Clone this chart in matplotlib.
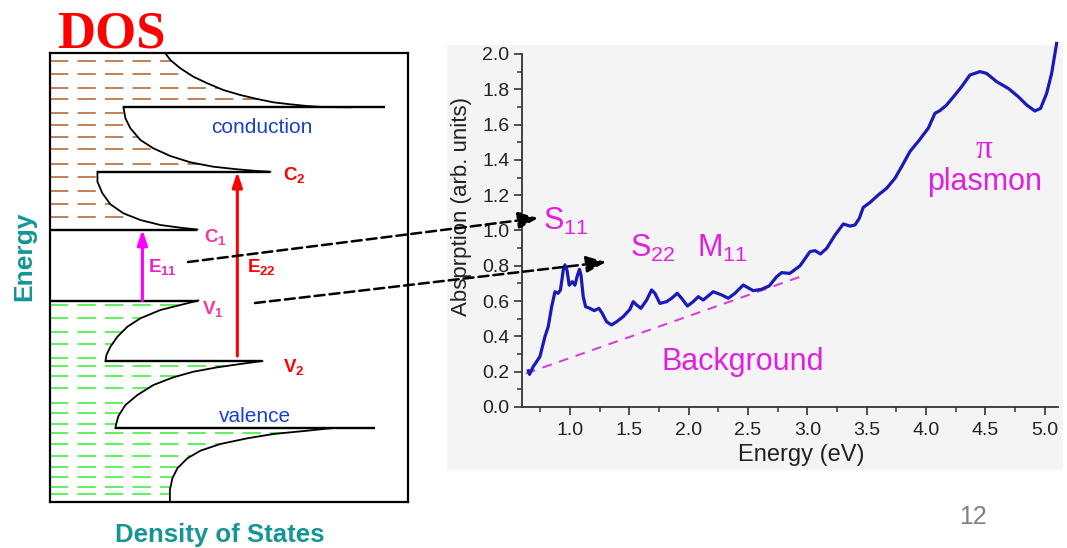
import matplotlib
matplotlib.use("Agg")
import matplotlib.pyplot as plt
import numpy as np
from matplotlib.patches import Polygon, Rectangle
from matplotlib.ticker import MultipleLocator

plt.rcParams['font.family'] = ['Liberation Sans', 'DejaVu Sans']
plt.rcParams['mathtext.fontset'] = 'custom'
plt.rcParams['mathtext.rm'] = 'Liberation Sans'
plt.rcParams['mathtext.it'] = 'Liberation Sans:italic'
plt.rcParams['mathtext.bf'] = 'Liberation Sans:bold'

# ---- absorption spectrum (right panel) ----
energy_ev = [0.65, 0.66, 0.69, 0.747, 0.79, 0.817, 0.846, 0.874, 0.90, 0.92,
             0.944, 0.958, 0.975, 0.994, 1.02, 1.042, 1.06, 1.08, 1.093, 1.112,
             1.132, 1.168, 1.205, 1.244, 1.272, 1.309, 1.351, 1.393, 1.449, 1.505,
             1.533, 1.562, 1.598, 1.646, 1.688, 1.716, 1.758, 1.815, 1.857, 1.904,
             1.941, 1.99, 2.039, 2.081, 2.123, 2.207, 2.278, 2.334, 2.39, 2.46,
             2.544, 2.615, 2.679, 2.741, 2.783, 2.853, 2.938, 3.022, 3.064, 3.11,
             3.163, 3.233, 3.303, 3.359, 3.401, 3.438, 3.471, 3.527, 3.597, 3.668,
             3.738, 3.794, 3.864, 3.949, 4.019, 4.075, 4.117, 4.173, 4.244, 4.30,
             4.37, 4.454, 4.51, 4.595, 4.693, 4.777, 4.848, 4.917, 4.965, 5.016,
             5.058, 5.10]
absorption = [0.205, 0.185, 0.228, 0.285, 0.40, 0.455, 0.568, 0.653, 0.644, 0.663,
              0.776, 0.805, 0.776, 0.69, 0.71, 0.69, 0.738, 0.78, 0.748, 0.625,
              0.568, 0.559, 0.546, 0.559, 0.531, 0.483, 0.465, 0.483, 0.512, 0.553,
              0.597, 0.578, 0.559, 0.606, 0.663, 0.644, 0.587, 0.597, 0.616, 0.644,
              0.616, 0.572, 0.597, 0.625, 0.606, 0.653, 0.635, 0.616, 0.644, 0.691,
              0.659, 0.667, 0.686, 0.738, 0.761, 0.757, 0.80, 0.88, 0.886, 0.867,
              0.899, 0.974, 1.037, 1.025, 1.031, 1.069, 1.131, 1.158, 1.201, 1.239,
              1.296, 1.361, 1.447, 1.517, 1.58, 1.664, 1.679, 1.711, 1.768, 1.815,
              1.881, 1.90, 1.89, 1.843, 1.805, 1.758, 1.711, 1.677, 1.692, 1.777,
              1.89, 2.06]
background_ev = [0.63, 2.97]
background_abs = [0.19, 0.745]

# ---- schematic DOS (left panel), arbitrary units ----
# band edges (van Hove singularities)
cond_levels = [35.5, 93.3, 157.7]
cond_line_start = [0, 47, 73]
cond_line_end = [147, 220, 335]
val_levels = [-35.5, -96, -163]
val_line_start = [0, 55, 65]
val_line_end = [148, 212, 325]

# DOS curves, from the singularity outwards
c1_dos = [147, 130, 110, 90, 73, 60, 52, 47, 47]
c1_e = [35.5, 37.3, 40, 45, 51.7, 60.7, 71.7, 83.3, 93.3]
c2_dos = [220, 207, 187, 163, 140, 120, 103, 90, 80, 75, 73]
c2_e = [93.3, 94, 95.7, 98.3, 102.7, 109, 116.7, 125, 136.7, 146.7, 157.7]
c3_dos = [300, 273, 257, 240, 223, 207, 190, 173, 157, 143, 130, 120, 115]
c3_e = [157.7, 158, 159, 160.7, 162.7, 166, 170, 175, 181.7, 188.3, 196.7, 205, 211.7]
v1_dos = [148, 130, 110, 90, 77, 67, 60, 56, 55]
v1_e = [-35.5, -40, -45, -53.3, -61.7, -71.7, -81.7, -90, -96]
v2_dos = [212, 190, 167, 143, 123, 103, 87, 75, 68, 65.5, 65]
v2_e = [-96, -99, -102.3, -106.7, -112.3, -120, -130, -140, -151, -160, -163]
v3_dos = [283, 257, 223, 197, 170, 150, 137, 127, 122, 119.5, 119.5]
v3_e = [-163, -165.7, -169, -173.3, -179, -185.7, -193.3, -203.3, -213.3, -225, -236.7]

# filled-state rows (dashed)
cond_rows = [48.3, 60.7, 74.3, 87.7, 101, 115.7, 128.3, 140, 151.7, 165.7,
             177.3, 190.7, 204.3]
val_rows = [-40, -53.3, -67.3, -79, -92.7, -101, -111, -123.3, -138.3, -147.7,
            -159.3, -168.3, -179.3, -190.7, -201.7, -211.7, -222.3, -229]

dos_max = 358
e_top, e_bottom = 211.7, -236.7

fig = plt.figure(figsize=(10.67, 5.48), dpi=100)

# grey panel behind the spectrum
fig.add_artist(Rectangle((0.4189, 0.1423), 0.5773, 0.7755, transform=fig.transFigure,
                         facecolor='#f4f4f4', edgecolor='none', zorder=-1))

# ================= DOS panel =================
ax_dos = fig.add_axes([0.0473, 0.0845, 0.3353, 0.8182])
ax_dos.set_xlim(0, dos_max)
ax_dos.set_ylim(e_bottom, e_top)
ax_dos.set_xticks([])
ax_dos.set_yticks([])
for sp in ax_dos.spines.values():
    sp.set_linewidth(1.6)

cond_curves = [(c1_dos, c1_e), (c2_dos, c2_e), (c3_dos, c3_e)]
val_curves = [(v1_dos, v1_e), (v2_dos, v2_e), (v3_dos, v3_e)]


def region(curves, e_start, e_end):
    # area to the left of the DOS curves, used to clip the dashed rows
    xs = [0]
    ys = [e_start]
    for d, e in curves:
        xs += list(d)
        ys += list(e)
    xs.append(0)
    ys.append(e_end)
    return Polygon(np.column_stack([xs, ys]), closed=True, facecolor='none',
                   edgecolor='none')


poly_c = ax_dos.add_patch(region(cond_curves, cond_levels[0], e_top))
poly_v = ax_dos.add_patch(region(val_curves, val_levels[0], e_bottom))

for e in cond_rows:
    ln, = ax_dos.plot([0, dos_max], [e, e], color='#b0602a', lw=1.1,
                      dashes=(12, 6), zorder=1)
    ln.set_clip_path(poly_c)
for e in val_rows:
    ln, = ax_dos.plot([0, dos_max], [e, e], color='#33ee33', lw=1.1,
                      dashes=(12, 6), zorder=1)
    ln.set_clip_path(poly_v)

for lev, x0, x1 in zip(cond_levels + val_levels, cond_line_start + val_line_start,
                       cond_line_end + val_line_end):
    ax_dos.plot([x0, x1], [lev, lev], color='black', lw=1.7, zorder=3,
                solid_capstyle='butt')
for d, e in cond_curves + val_curves:
    ax_dos.plot(d, e, color='black', lw=1.3, zorder=3)

# transitions
ax_dos.annotate('', xy=(92, cond_levels[0]), xytext=(92, val_levels[0]),
                arrowprops=dict(arrowstyle='-|>,head_length=0.9,head_width=0.3',
                                color='#ff00ff', lw=2.2, shrinkA=0, shrinkB=0))
ax_dos.annotate('', xy=(187, cond_levels[1]), xytext=(187, -91),
                arrowprops=dict(arrowstyle='-|>,head_length=0.9,head_width=0.3',
                                color='#ff0000', lw=2.2, shrinkA=0, shrinkB=0))

lab = dict(fontsize=13.5, fontweight='bold', va='center', ha='left')
ax_dos.text(233, 90, r'$\mathbf{C_2}$', color='#ff0000', **lab)
ax_dos.text(154, 28, r'$\mathbf{C_1}$', color='#ff3399', **lab)
ax_dos.text(98, -2, r'$\mathbf{E_{11}}$', color='#ee22cc', **lab)
ax_dos.text(197, -2, r'$\mathbf{E_{22}}$', color='#ff0000', **lab)
ax_dos.text(152, -44, r'$\mathbf{V_1}$', color='#ff3399', **lab)
ax_dos.text(233, -102, r'$\mathbf{V_2}$', color='#ff0000', **lab)
ax_dos.text(211, 138, 'conduction', color='#1a3fcc', fontsize=15,
            ha='center', va='center')
ax_dos.text(205, -152, 'valence', color='#1a3fcc', fontsize=15,
            ha='center', va='center')

fig.text(0.0534, 0.9142, 'DOS', family='Liberation Serif', fontweight='bold',
         fontsize=38, color='#ff0000', ha='left', va='baseline')
fig.text(24 / 1067, 1 - 256 / 548, 'Energy', rotation=90, fontsize=19,
         fontweight='bold', color='#149696', ha='center', va='center')
fig.text(220 / 1067, 1 - 535 / 548, 'Density of States', fontsize=18.5,
         fontweight='bold', color='#149696', ha='center', va='center')
fig.text(973 / 1067, 1 - 517 / 548, '12', fontsize=18, color='#808080',
         ha='center', va='center')

# ================= absorption panel =================
ax = fig.add_axes([0.4892, 0.2573, 0.5023, 0.6442])
ax.set_facecolor('none')
ax.plot(energy_ev, absorption, color='#1a1ab8', lw=2.3, clip_on=False,
        solid_joinstyle='round', zorder=3)
ax.plot(background_ev, background_abs, color='#dd33dd', lw=1.4, dashes=(5, 4))
ax.set_xlim(0.596, 5.111)
ax.set_ylim(0, 2.0)
ax.xaxis.set_major_locator(MultipleLocator(0.5))
ax.xaxis.set_minor_locator(MultipleLocator(0.25))
ax.yaxis.set_major_locator(MultipleLocator(0.2))
ax.yaxis.set_minor_locator(MultipleLocator(0.1))
ax.xaxis.set_major_formatter(lambda v, p: f'{v:.1f}')
ax.yaxis.set_major_formatter(lambda v, p: f'{v:.1f}')
for side in ['top', 'right']:
    ax.spines[side].set_visible(False)
for side in ['left', 'bottom']:
    ax.spines[side].set_linewidth(1.3)
    ax.spines[side].set_color('#333333')
ax.tick_params(which='major', direction='out', length=6, width=1.2,
               colors='#333333', labelsize=14, labelcolor='#222222')
ax.tick_params(which='minor', direction='out', length=3.5, width=1.1,
               colors='#333333')
ax.tick_params(axis='x', which='major', pad=5)
ax.tick_params(axis='y', which='major', pad=3)
ax.set_xlabel('Energy (eV)', fontsize=17, color='#222222')
ax.xaxis.set_label_coords(0.522, -0.105)
ax.set_ylabel('Absprption (arb. units)', fontsize=16, color='#222222')
ax.yaxis.set_label_coords(-0.094, 0.567)

mag = dict(color='#e020e0', fontsize=22, va='baseline', ha='left')
ax.text(0.773, 1.003, r'$\mathregular{S_{11}}$', **mag)
ax.text(1.505, 0.85, r'$\mathregular{S_{22}}$', **mag)
ax.text(2.07, 0.85, r'$\mathregular{M_{11}}$', **mag)
ax.text(1.775, 0.21, 'Background', **mag)
ax.text(4.49, 1.41, 'π', color='#e020e0', fontsize=24, family='Liberation Serif',
        ha='center', va='baseline')
ax.text(4.49, 1.229, 'plasmon', color='#e020e0', fontsize=22, ha='center',
        va='baseline')

# dashed pointers from the transitions to the spectral peaks
arrow = dict(arrowstyle='-|>,head_length=1.2,head_width=0.5', color='black',
             lw=1.8, linestyle=(0, (4, 2)), shrinkA=0, shrinkB=0)
ax.annotate('', xy=(538 / 1067, 1 - 218 / 548), xycoords='figure fraction',
            xytext=(188 / 1067, 1 - 262 / 548), textcoords='figure fraction',
            arrowprops=arrow)
ax.annotate('', xy=(606 / 1067, 1 - 262 / 548), xycoords='figure fraction',
            xytext=(255 / 1067, 1 - 303 / 548), textcoords='figure fraction',
            arrowprops=arrow)

fig.savefig('out.png', dpi=100)
